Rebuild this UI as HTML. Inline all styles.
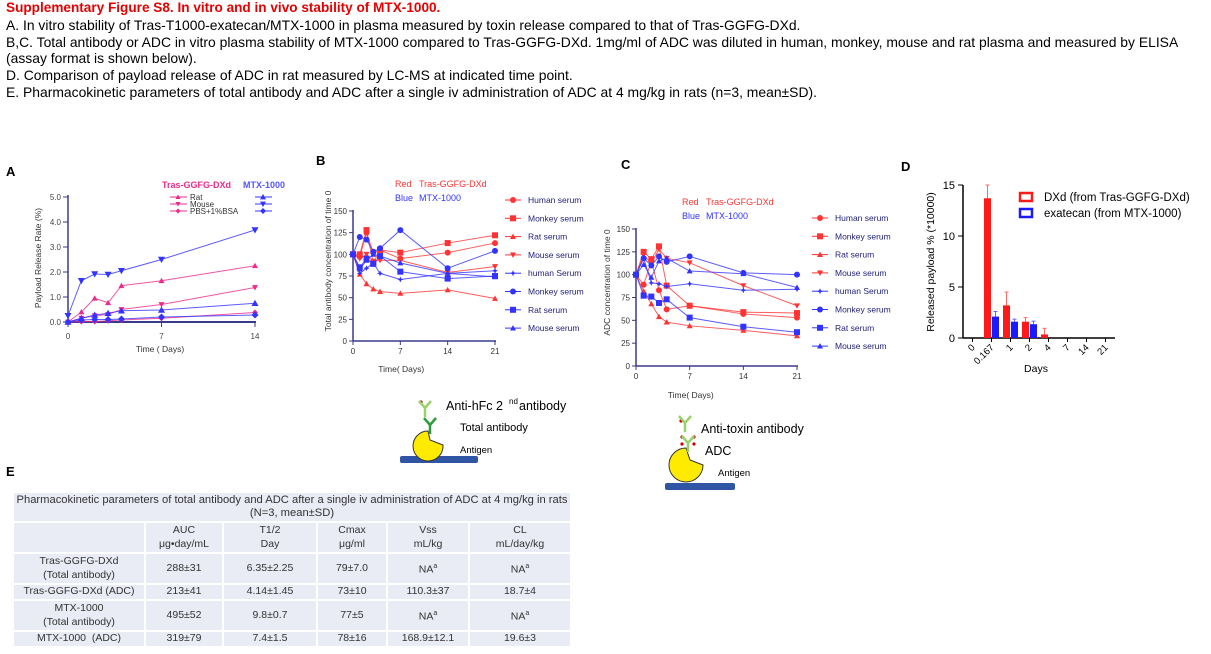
<!DOCTYPE html>
<html><head><meta charset="utf-8"><style>
body{margin:0;width:1211px;height:654px;overflow:hidden;background:#fff;font-family:"Liberation Sans",sans-serif;position:relative}
#hdr{position:absolute;left:6px;top:0px;font-size:13.9px;line-height:16.8px;color:#000;width:1200px}
#hdr .t{color:#e60000;font-weight:bold;font-size:13.6px}
svg{position:absolute;left:0;top:0}
table{position:absolute;left:12px;top:491px;width:560px;border-collapse:collapse;font-size:10.5px;color:#333;background:#e9ebf5}
td{border:2px solid #fff;text-align:center;padding:0;line-height:13.5px}
</style></head><body>
<div id="hdr">
<div class="t">Supplementary Figure S8. In vitro and in vivo stability of MTX-1000.</div>
<div>A. In vitro stability of Tras-T1000-exatecan/MTX-1000 in plasma measured by toxin release compared to that of Tras-GGFG-DXd.</div>
<div>B,C. Total antibody or ADC in vitro plasma stability of MTX-1000 compared to Tras-GGFG-DXd. 1mg/ml of ADC was diluted in human, monkey, mouse and rat plasma and measured by ELISA (assay format is shown below).</div>
<div>D. Comparison of payload release of ADC in rat measured by LC-MS at indicated time point.</div>
<div>E. Pharmacokinetic parameters of total antibody and ADC after a single iv administration of ADC at 4 mg/kg in rats (n=3, mean±SD).</div>
</div>
<svg id="s" width="1211" height="654" xmlns="http://www.w3.org/2000/svg" font-family="Liberation Sans, sans-serif"></svg>
<table>
<tr><td colspan="6" style="height:28px;font-size:11.2px;padding:0 2px">Pharmacokinetic parameters of total antibody and ADC after a single iv administration of ADC at 4 mg/kg in rats (N=3, mean±SD)</td></tr>
<tr><td style="width:130px;height:29px"></td><td style="width:76px">AUC<br>μg•day/mL</td><td style="width:92px">T1/2<br>Day</td><td style="width:68px">Cmax<br>μg/ml</td><td style="width:80px">Vss<br>mL/kg</td><td>CL<br>mL/day/kg</td></tr>
<tr><td style="height:29px">Tras-GGFG-DXd<br>(Total antibody)</td><td>288±31</td><td>6.35±2.25</td><td>79±7.0</td><td>NA<sup style="font-size:7px">a</sup></td><td>NA<sup style="font-size:7px">a</sup></td></tr>
<tr><td style="height:14px">Tras-GGFG-DXd (ADC)</td><td>213±41</td><td>4.14±1.45</td><td>73±10</td><td>110.3±37</td><td>18.7±4</td></tr>
<tr><td style="height:29px">MTX-1000<br>(Total antibody)</td><td>495±52</td><td>9.8±0.7</td><td>77±5</td><td>NA<sup style="font-size:7px">a</sup></td><td>NA<sup style="font-size:7px">a</sup></td></tr>
<tr><td style="height:14px">MTX-1000 &nbsp;(ADC)</td><td>319±79</td><td>7.4±1.5</td><td>78±16</td><td>168.9±12.1</td><td>19.6±3</td></tr>
</table>
<script>
// Panel A data
const aDays=[0,1,2,3,4,7,14];
const aRedRat=[0,0.4,0.95,0.77,1.45,1.65,2.25];
const aRedMouse=[0,0.15,0.25,0.3,0.5,0.7,1.38];
const aRedPBS=[0,0.02,0.02,0.05,0.08,0.15,0.38];
const aBlueRat=[0,0.15,0.28,0.35,0.45,0.48,0.75];
const aBlueMouse=[0.25,1.65,1.92,1.9,2.05,2.5,3.68];
const aBluePBS=[0,0.08,0.1,0.1,0.12,0.2,0.28];
const aYTicks=[0,1,2,3,4,5];
// Panel B data
const bDays=[0,1,2,3,4,7,14,21];
const bRedHuman=[100,97,125,102,105,95,102,113];
const bRedMonkey=[100,100,128,90,105,102,113,122];
const bRedRat=[100,77,66,60,57,55,59,49];
const bRedMouse=[100,95,100,92,93,93,79,86];
const bBlueHuman=[100,78,84,90,78,71,78,81];
const bBlueMonkey=[100,120,117,103,107,128,84,104];
const bBlueRat=[100,85,95,89,98,80,72,75];
const bBlueMouse=[100,83,93,100,98,90,78,74];
// Panel C data
const cRedHuman=[100,89,115,83,62,66,57,53];
const cRedMonkey=[100,125,117,131,88,66,59,58];
const cRedRat=[100,82,68,54,48,44,39,33];
const cRedMouse=[100,122,112,128,118,113,88,66];
const cBlueHuman=[100,118,91,90,87,90,83,84];
const cBlueMonkey=[100,118,110,120,114,120,102,100];
const cBlueRat=[100,77,76,69,73,53,43,37];
const cBlueMouse=[100,111,97,115,118,104,101,86];
const bcYTicks=[0,25,50,75,100,125,150];
const bcXTicks=[0,7,14,21];
// Panel D data
const dCats=["0","0.167","1","2","4","7","14","21"];
const dRed=[0,13.7,3.2,1.6,0.35,0,0,0];
const dRedErr=[0,1.3,1.3,0.4,0.6,0,0,0];
const dBlue=[0,2.1,1.6,1.35,0,0,0,0];
const dBlueErr=[0,0.5,0.25,0.3,0,0,0,0];
const dYTicks=[0,5,10,15];

const S=document.getElementById('s');const NS='http://www.w3.org/2000/svg';
function el(t,a,p){const e=document.createElementNS(NS,t);for(const k in a)e.setAttribute(k,a[k]);(p||S).appendChild(e);return e;}
function tx(x,y,s,a,p){const e=el('text',Object.assign({x:x,y:y},a),p);e.textContent=s;return e;}
function marker(g,sh,x,y,c,r){
  if(sh==='circle')return el('circle',{cx:x,cy:y,r:r,fill:c},g);
  if(sh==='square')return el('rect',{x:x-r,y:y-r,width:2*r,height:2*r,fill:c},g);
  if(sh==='up')return el('polygon',{points:`${x},${y-r} ${x-r},${y+r*0.8} ${x+r},${y+r*0.8}`,fill:c},g);
  if(sh==='down')return el('polygon',{points:`${x},${y+r} ${x-r},${y-r*0.8} ${x+r},${y-r*0.8}`,fill:c},g);
  if(sh==='diamond')return el('polygon',{points:`${x},${y-r} ${x+r},${y} ${x},${y+r} ${x-r},${y}`,fill:c},g);
  if(sh==='star')return el('polygon',{points:`${x},${y-r} ${x+r*0.3},${y-r*0.3} ${x+r},${y} ${x+r*0.3},${y+r*0.3} ${x},${y+r} ${x-r*0.3},${y+r*0.3} ${x-r},${y} ${x-r*0.3},${y-r*0.3}`,fill:c},g);
}
function series(g,xs,ys,X,Y,c,sh,r,name){
  const sg=el('g',{},g);
  
  
  el('polyline',{points:xs.map((d,i)=>X(d)+','+Y(ys[i])).join(' '),fill:'none',stroke:c,'stroke-width':1,'stroke-opacity':0.8},sg);
  xs.forEach((d,i)=>{const m=marker(sg,sh,X(d),Y(ys[i]),c,r);
    
    });
}
const RED='#ff3333',BLUE='#3333ff',PINK='#ee2a8a',NAVY='#3a3a8a';

// Panel A
{const g=el('g',{});
tx(6,176,'A',{'font-size':13,'font-weight':'bold'},g);
const X=d=>68+d*(187/14),Y=v=>322-v*25;
el('line',{x1:68,y1:195,x2:68,y2:323,stroke:NAVY,'stroke-width':1.5},g);
el('line',{x1:67,y1:322,x2:256,y2:322,stroke:NAVY,'stroke-width':2},g);
aYTicks.forEach(t=>{el('line',{x1:63,y1:Y(t),x2:68,y2:Y(t),stroke:NAVY},g);tx(61,Y(t)+3,t.toFixed(1),{'font-size':8,'text-anchor':'end',fill:'#444'},g);});
[0,7,14].forEach(t=>{el('line',{x1:X(t),y1:322,x2:X(t),y2:327,stroke:NAVY},g);tx(X(t),339,t,{'font-size':8,'text-anchor':'middle',fill:'#444'},g);});
tx(160,352,'Time ( Days)',{'font-size':8.5,'text-anchor':'middle',fill:'#333'},g);
tx(0,0,'Payload Release Rate (%)',{'font-size':8.5,'text-anchor':'middle',fill:'#333',transform:'translate(41,258) rotate(-90)'},g);
series(g,aDays,aRedRat,X,Y,PINK,'up',3,'a-tras-rat');
series(g,aDays,aRedMouse,X,Y,PINK,'down',3,'a-tras-mouse');
series(g,aDays,aRedPBS,X,Y,PINK,'diamond',3,'a-tras-pbs');
series(g,aDays,aBlueRat,X,Y,BLUE,'up',3.5,'a-mtx-rat');
series(g,aDays,aBlueMouse,X,Y,BLUE,'down',3.5,'a-mtx-mouse');
series(g,aDays,aBluePBS,X,Y,BLUE,'diamond',3.5,'a-mtx-pbs');
tx(162,188,'Tras-GGFG-DXd',{'font-size':9,'font-weight':'bold',fill:PINK},g);
tx(243,188,'MTX-1000',{'font-size':9,'font-weight':'bold',fill:'#5555ff'},g);
[['Rat','up',197],['Mouse','down',204],['PBS+1%BSA','diamond',211]].forEach(([n,sh,y])=>{
 const lg=el('g',{},g);
 el('line',{x1:170,y1:y,x2:187,y2:y,stroke:PINK},lg);marker(lg,sh,178,y,PINK,2.5);
 tx(190,y+3,n,{'font-size':8,fill:'#333'},lg);
 el('line',{x1:255,y1:y,x2:272,y2:y,stroke:BLUE},lg);marker(lg,sh,263,y,BLUE,3);});
}

function serumPanel(id,ox,top,bot,xEnd,data,label,legX,legY,ylab,ylabX,xlabY){
 const g=el('g',{});
 const X=d=>ox+d*(xEnd-ox)/21,Y=v=>bot-v*(bot-top)/150;
 el('line',{x1:ox,y1:top-1,x2:ox,y2:bot,stroke:NAVY,'stroke-width':1.5},g);
 el('line',{x1:ox,y1:bot,x2:xEnd+1,y2:bot,stroke:NAVY,'stroke-width':1.5},g);
 bcYTicks.forEach(t=>{el('line',{x1:ox-4,y1:Y(t),x2:ox,y2:Y(t),stroke:NAVY},g);tx(ox-6,Y(t)+3,t,{'font-size':8,'text-anchor':'end',fill:'#333'},g);});
 bcXTicks.forEach(t=>{el('line',{x1:X(t),y1:bot,x2:X(t),y2:bot+4,stroke:NAVY},g);tx(X(t),bot+13,t,{'font-size':8,'text-anchor':'middle',fill:'#333'},g);});
 tx(ox+(xEnd-ox)*0.34,xlabY,'Time( Days)',{'font-size':8.5,'fill':'#333','text-anchor':'middle'},g);
 tx(0,0,ylab,{'font-size':8.5,'text-anchor':'middle',fill:'#333',transform:`translate(${ylabX},${(top+bot)/2-15}) rotate(-90)`},g);
 const specs=[['Human serum',RED,'circle'],['Monkey serum',RED,'square'],['Rat serum',RED,'up'],['Mouse serum',RED,'down'],['human Serum',BLUE,'star'],['Monkey serum',BLUE,'circle'],['Rat serum',BLUE,'square'],['Mouse serum',BLUE,'up']];
 specs.forEach((s,i)=>{series(g,bDays,data[i],X,Y,s[1],s[2],3,id+'-'+(s[1]===RED?'tras':'mtx')+'-'+s[0].split(' ')[0].toLowerCase());
  const lg=el('g',{},g);
  const y=legY+i*18.3;el('line',{x1:legX-8,y1:y,x2:legX+8,y2:y,stroke:s[1]},lg);marker(lg,s[2],legX,y,s[1],3);
  tx(legX+15,y+3,s[0],{'font-size':8.5,fill:'#22227a'},lg);});
 tx(label[0],label[1],'Red',{'font-size':9,fill:RED},g);tx(label[0]+24,label[1],'Tras-GGFG-DXd',{'font-size':9,fill:RED},g);
 tx(label[0],label[1]+14,'Blue',{'font-size':9,fill:BLUE},g);tx(label[0]+24,label[1]+14,'MTX-1000',{'font-size':9,fill:BLUE},g);
}
tx(316,165,'B',{'font-size':13,'font-weight':'bold'});
serumPanel('b',353,211,341,495,[bRedHuman,bRedMonkey,bRedRat,bRedMouse,bBlueHuman,bBlueMonkey,bBlueRat,bBlueMouse],[395,187],513,200,'Total antibody concentration of time 0',331,372);
tx(621,169,'C',{'font-size':13,'font-weight':'bold'});
serumPanel('c',636,229,366,797,[cRedHuman,cRedMonkey,cRedRat,cRedMouse,cBlueHuman,cBlueMonkey,cBlueRat,cBlueMouse],[682,205],820,218,'ADC concentration of time 0',610,398);

// Panel D
{const g=el('g',{});
tx(901,171,'D',{'font-size':13,'font-weight':'bold'},g);
const ox=963,bot=338,top=185,w=(1115-ox)/8;const Y=v=>bot-v*(bot-top)/15;
el('line',{x1:ox,y1:top,x2:ox,y2:bot,stroke:'#000','stroke-width':1.5},g);
el('line',{x1:ox,y1:bot,x2:1115,y2:bot,stroke:'#000','stroke-width':1.5},g);
dYTicks.forEach(t=>{el('line',{x1:ox-5,y1:Y(t),x2:ox,y2:Y(t),stroke:'#000'},g);tx(ox-8,Y(t)+4,t,{'font-size':11,'text-anchor':'end'},g);});
dCats.forEach((c,i)=>{const cx=ox+w*(i+0.5);el('line',{x1:cx,y1:bot,x2:cx,y2:bot+4,stroke:'#000'},g);
 tx(0,0,c,{'font-size':9.5,'text-anchor':'end',transform:`translate(${cx+3},${bot+10}) rotate(-45)`},g);
 if(dRed[i]>0){el('line',{x1:cx-4,y1:Y(dRed[i]),x2:cx-4,y2:Y(dRed[i]+dRedErr[i]),stroke:'#f66'},g);el('line',{x1:cx-6,y1:Y(dRed[i]+dRedErr[i]),x2:cx-2,y2:Y(dRed[i]+dRedErr[i]),stroke:'#f66'},g);
  const b=el('rect',{x:cx-7.5,y:Y(dRed[i]),width:7,height:bot-Y(dRed[i]),fill:'#ff1a1a'},g);
  
  }
 if(dBlue[i]>0){el('line',{x1:cx+4,y1:Y(dBlue[i]),x2:cx+4,y2:Y(dBlue[i]+dBlueErr[i]),stroke:'#66f'},g);el('line',{x1:cx+2,y1:Y(dBlue[i]+dBlueErr[i]),x2:cx+6,y2:Y(dBlue[i]+dBlueErr[i]),stroke:'#66f'},g);
  const b=el('rect',{x:cx+0.5,y:Y(dBlue[i]),width:7,height:bot-Y(dBlue[i]),fill:'#1a1aff'},g);
  
  }
});
tx(1036,372,'Days',{'font-size':10.5,'text-anchor':'middle'},g);
tx(0,0,'Released payload % (*10000)',{'font-size':10.5,'text-anchor':'middle',transform:'translate(934,262) rotate(-90)'},g);
el('rect',{x:1020,y:193,width:12,height:8,fill:'none',stroke:'#ff1a1a','stroke-width':2.5},g);tx(1044,201,'DXd (from Tras-GGFG-DXd)',{'font-size':11.5},g);
el('rect',{x:1020,y:209,width:12,height:8,fill:'none',stroke:'#1a1aff','stroke-width':2.5},g);tx(1044,217,'exatecan (from MTX-1000)',{'font-size':11.5},g);
}

// Schematics
function ab(x,y,c){el('path',{d:`M${x-6},${y-9} L${x},${y-2} L${x+6},${y-9} M${x},${y-2} L${x},${y+7}`,stroke:c,'stroke-width':2.5,fill:'none'});}
{const g=el('g',{});
el('rect',{x:400,y:456,width:78,height:7,rx:2,fill:'#2f55a4'},g);
el('path',{d:'M428,431 A15,15 0 1 0 443,445 L430,440 Z',fill:'#ffeb00',stroke:'#333'},g);
ab(425,410,'#9bd16a');el('circle',{cx:421,cy:402,r:1.6,fill:'#c00'},g);ab(430,427,'#2c9c3a');
tx(446,410,'Anti-hFc 2',{'font-size':12.5},g);tx(509,404,'nd',{'font-size':8},g);tx(519,410,'antibody',{'font-size':12.5},g);
tx(460,431,'Total antibody',{'font-size':11},g);tx(460,453,'Antigen',{'font-size':9.5},g);}
{const g=el('g',{});
el('rect',{x:665,y:483,width:70,height:7,rx:2,fill:'#2f55a4'},g);
el('path',{d:'M686,448 A17,17 0 1 0 703,465 L690,460 Z',fill:'#ffeb00',stroke:'#333'},g);
ab(685,425,'#9bd16a');ab(688,445,'#9bd16a');
[[681,421],[682,437],[694,437],[682,444],[694,444]].forEach(p=>el('circle',{cx:p[0],cy:p[1],r:1.6,fill:'#c00'},g));
tx(701,433,'Anti-toxin antibody',{'font-size':12.5},g);tx(705,455,'ADC',{'font-size':12.5},g);tx(718,476,'Antigen',{'font-size':9.5},g);}
tx(6,476,'E',{'font-size':13,'font-weight':'bold'});
</script>
</body></html>
